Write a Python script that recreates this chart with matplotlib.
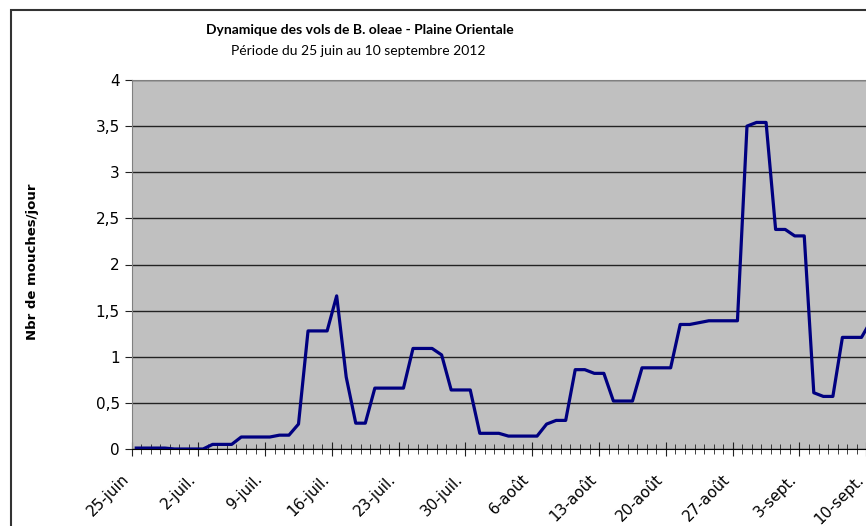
import matplotlib.pyplot as plt
from matplotlib.patches import Rectangle
from matplotlib.transforms import ScaledTranslation

# nombre de mouches par jour, du 25 juin au 10 septembre 2012
mouches = [0.01, 0.01, 0.01, 0.01, 0, 0, 0, 0, 0.05, 0.05,
           0.05, 0.13, 0.13, 0.13, 0.13, 0.15, 0.15, 0.27, 1.28, 1.28,
           1.28, 1.66, 0.78, 0.28, 0.28, 0.66, 0.66, 0.66, 0.66, 1.09,
           1.09, 1.09, 1.02, 0.64, 0.64, 0.64, 0.17, 0.17, 0.17, 0.14,
           0.14, 0.14, 0.14, 0.27, 0.31, 0.31, 0.86, 0.86, 0.82, 0.82,
           0.52, 0.52, 0.52, 0.88, 0.88, 0.88, 0.88, 1.35, 1.35, 1.37,
           1.39, 1.39, 1.39, 1.39, 3.50, 3.54, 3.54, 2.38, 2.38, 2.31,
           2.31, 0.61, 0.57, 0.57, 1.21, 1.21, 1.21, 1.39]
semaines = ['25-juin', '2-juil.', '9-juil.', '16-juil.', '23-juil.', '30-juil.',
            '6-août', '13-août', '20-août', '27-août', '3-sept.', '10-sept.']
yticks = [0, 0.5, 1, 1.5, 2, 2.5, 3, 3.5, 4]
ylabels = ['0', '0,5', '1', '1,5', '2', '2,5', '3', '3,5', '4']

fig = plt.figure(figsize=(8.66, 5.26), dpi=100)
W, H = 866, 526
ax = fig.add_axes([131.5/W, (H-449)/H, 1 - 131.5/W + 0.002, (449-80)/H])

# cadre du graphique
fig.patches.append(Rectangle((11/W, -0.1), 1.2, 1.1 - 10/H, transform=fig.transFigure,
                             fill=False, edgecolor='#333333', lw=1.5))

jours = [i + 0.5 for i in range(len(mouches))]
ax.set_facecolor('#c0c0c0')
ax.plot(jours, mouches, color='#000080', lw=2.3, zorder=3)

ax.set_xlim(0, (W - 131.5) / 9.52)
ax.set_ylim(0, 4)
ax.set_yticks(yticks)
ax.set_yticklabels(ylabels, fontsize=11)
ax.grid(axis='y', color='#222222', lw=1)
ax.set_axisbelow(True)

ax.set_xticks([7 * i for i in range(len(semaines))])
ax.set_xticklabels([])
# etiquettes de dates, inclinees a 45 degres
decal = ax.get_xaxis_transform() + ScaledTranslation(-5/100, -28/100, fig.dpi_scale_trans)
for i, lab in enumerate(semaines):
    ax.text(7 * i, 0, lab, transform=decal, rotation=45, ha='right', va='center',
            rotation_mode='anchor', fontsize=11, clip_on=False)
ax.set_xticks(range(0, 78), minor=True)
ax.tick_params(axis='x', which='major', direction='inout', length=10, color='#222222')
ax.tick_params(axis='x', which='minor', direction='inout', length=7, color='#222222')
ax.tick_params(axis='y', direction='out', length=5, color='#222222')

for s in ['top', 'right', 'left']:
    ax.spines[s].set_color('#808080')
ax.spines['bottom'].set_color('black')

fig.text(33/W, 1 - 262/H, 'Nbr de mouches/jour', rotation=90, ha='center', va='center',
         fontsize=9.5, fontweight='bold')

fig.text(360/W, 1 - 30/H, 'Dynamique des vols de B. oleae - Plaine Orientale',
         ha='center', va='center', fontsize=10, fontweight='bold', family='Lato')
fig.text(358/W, 1 - 51/H, 'Période du 25 juin au 10 septembre 2012',
         ha='center', va='center', fontsize=10, family='Lato')

fig.savefig('out.png', dpi=100)
